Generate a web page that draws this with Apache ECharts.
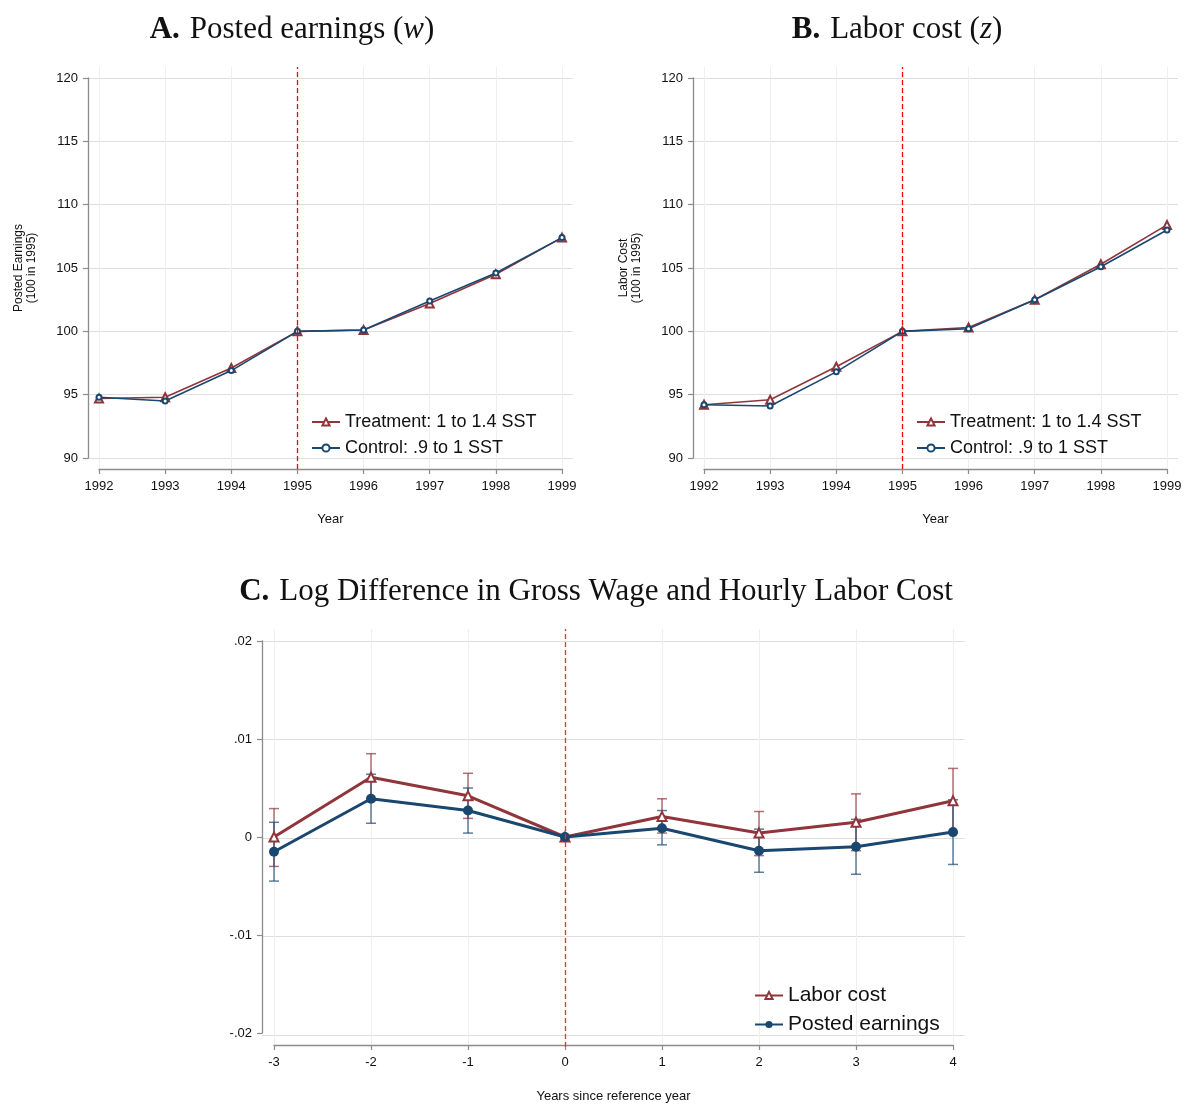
<!DOCTYPE html>
<html>
<head>
<meta charset="utf-8">
<script src="https://cdn.jsdelivr.net/npm/echarts@6/dist/echarts.min.js"></script>
<style>
  body { margin: 0; background: #fff; }
  #chart { width: 1185px; height: 1104px; }
</style>
</head>
<body>
<div id="chart"></div>
<script>
// panel A / B data (index, 100 in 1995)
var years = [1992, 1993, 1994, 1995, 1996, 1997, 1998, 1999];
var postedTreat = [94.7, 94.8, 97.1, 100, 100.1, 102.2, 104.5, 107.4];
var postedControl = [94.8, 94.5, 96.9, 100, 100.1, 102.4, 104.6, 107.4];
var laborTreat = [94.2, 94.6, 97.2, 100, 100.3, 102.5, 105.3, 108.4];
var laborControl = [94.2, 94.1, 96.8, 100, 100.2, 102.5, 105.1, 108.0];
var indexTicks = [90, 95, 100, 105, 110, 115, 120];

// panel C data (log differences with CI)
var relYears = [-3, -2, -1, 0, 1, 2, 3, 4];
var laborCoef = [0, 0.0061, 0.0042, 0, 0.0021, 0.0004, 0.0015, 0.0037];
var laborLo = [-0.0030, 0.0037, 0.0019, 0, 0.0004, -0.0019, -0.0014, 0.0004];
var laborHi = [0.0029, 0.0085, 0.0065, 0, 0.0039, 0.0026, 0.0044, 0.0070];
var postedCoef = [-0.0015, 0.0039, 0.0027, 0, 0.0009, -0.0014, -0.0010, 0.0005];
var postedLo = [-0.0045, 0.0014, 0.0004, 0, -0.0008, -0.0036, -0.0038, -0.0028];
var postedHi = [0.0015, 0.0064, 0.0050, 0, 0.0027, 0.0008, 0.0018, 0.0038];
var diffTicks = [-0.02, -0.01, 0, 0.01, 0.02];

var RED = '#90353b', BLUE = '#1a476f';
var FONT = '"Liberation Sans", Arial, sans-serif';
var SERIF = '"Liberation Serif", "DejaVu Serif", serif';

var chart = echarts.init(document.getElementById('chart'));

var grids = [], xAxes = [], yAxes = [], series = [];

// each panel: exact grid for data & Stata-like axes, wide grid for gridlines
function addPanel(p) {
    var pxX = (p.x1 - p.x0) / (p.xmax - p.xmin);
    var pxY = (p.y1 - p.y0) / (p.ymax - p.ymin);
    var gi = grids.length;
    grids.push({ left: p.x0, top: p.y0, width: p.x1 - p.x0, height: p.y1 - p.y0 });
    grids.push({ left: p.x0 - p.pad, top: p.y0 - p.pad, width: p.x1 - p.x0 + 2 * p.pad, height: p.y1 - p.y0 + 2 * p.pad });
    var axLine = { show: true, onZero: false, lineStyle: { color: '#8c8c8c', width: 1.3 } };
    var tick = { show: true, length: 5, lineStyle: { color: '#8c8c8c', width: 1.2 } };
    xAxes.push({
        gridIndex: gi, type: 'value', min: p.xmin, max: p.xmax, interval: 1, offset: p.pad,
        axisLine: axLine, axisTick: tick, splitLine: { show: false },
        axisLabel: { color: '#111', fontFamily: FONT, fontSize: 13, margin: 11, formatter: function (v) { return String(v); } },
        name: p.xName, nameLocation: 'middle', nameGap: p.xNameGap,
        nameTextStyle: { color: '#111', fontFamily: FONT, fontSize: 13 }
    });
    xAxes.push({
        gridIndex: gi + 1, type: 'value', min: p.xmin - p.pad / pxX, max: p.xmax + p.pad / pxX,
        axisLine: { show: false, onZero: false }, axisLabel: { show: false },
        axisTick: { show: false, customValues: p.xTicks },
        splitLine: { show: true, lineStyle: { color: '#efefef', width: 1 } }
    });
    yAxes.push({
        gridIndex: gi, type: 'value', min: p.ymin, max: p.ymax, interval: p.yInterval, offset: p.pad,
        axisLine: axLine, axisTick: tick, splitLine: { show: false },
        axisLabel: { color: '#111', fontFamily: FONT, fontSize: 13, margin: 10, formatter: p.yFormat },
        name: p.yName, nameLocation: 'middle', nameRotate: 90, nameGap: p.yNameGap,
        nameTextStyle: { color: '#111', fontFamily: FONT, fontSize: 12, lineHeight: 13 }
    });
    yAxes.push({
        gridIndex: gi + 1, type: 'value', min: p.ymin - p.pad / pxY, max: p.ymax + p.pad / pxY,
        axisLine: { show: false, onZero: false }, axisLabel: { show: false },
        axisTick: { show: false, customValues: p.yTicks },
        splitLine: { show: true, lineStyle: { color: '#dedede', width: 1.2 } }
    });
    // reference line (dashed red)
    series.push({
        type: 'line', xAxisIndex: gi + 1, yAxisIndex: gi + 1, data: [], silent: true,
        markLine: {
            symbol: 'none', silent: true, label: { show: false },
            lineStyle: { color: p.refColor, type: [5, 3], width: 1.3, opacity: 1 },
            data: [{ xAxis: p.refX }]
        }
    });
    return gi;
}

function pairs(xs, ys) { return xs.map(function (x, i) { return [x, ys[i]]; }); }

function indexSeries(gi, treat, control) {
    series.push({
        name: 'Treatment: 1 to 1.4 SST', type: 'line', xAxisIndex: gi, yAxisIndex: gi,
        data: pairs(years, treat), symbol: 'emptyTriangle', symbolSize: 8,
        lineStyle: { color: RED, width: 1.6 }, itemStyle: { color: RED, borderWidth: 1.2 }, z: 3
    });
    series.push({
        name: 'Control: .9 to 1 SST', type: 'line', xAxisIndex: gi, yAxisIndex: gi,
        data: pairs(years, control), symbol: 'emptyCircle', symbolSize: 5,
        lineStyle: { color: BLUE, width: 1.6 }, itemStyle: { color: BLUE, borderWidth: 1.2 }, z: 4
    });
}

var gA = addPanel({ x0: 99, x1: 562, y0: 78, y1: 458, pad: 11, xmin: 1992, xmax: 1999, ymin: 90, ymax: 120,
    yInterval: 5, xTicks: years, yTicks: indexTicks, refX: 1995, refColor: '#ff0000',
    xName: 'Year', xNameGap: 44, yName: 'Posted Earnings\n(100 in 1995)', yNameGap: 50 });
indexSeries(gA, postedTreat, postedControl);

var gB = addPanel({ x0: 704, x1: 1167, y0: 78, y1: 458, pad: 11, xmin: 1992, xmax: 1999, ymin: 90, ymax: 120,
    yInterval: 5, xTicks: years, yTicks: indexTicks, refX: 1995, refColor: '#ff0000',
    xName: 'Year', xNameGap: 44, yName: 'Labor Cost\n(100 in 1995)', yNameGap: 50 });
indexSeries(gB, laborTreat, laborControl);

var gC = addPanel({ x0: 274, x1: 953, y0: 641, y1: 1035, pad: 12, xmin: -3, xmax: 4, ymin: -0.02, ymax: 0.02,
    yInterval: 0.01, xTicks: relYears, yTicks: diffTicks, refX: 0, refColor: '#ff2a2a',
    xName: 'Years since reference year', xNameGap: 45, yName: '', yNameGap: 40,
    yFormat: function (v) {
        if (Math.abs(v) < 1e-9) return '0';
        return (v < 0 ? '-' : '') + Math.abs(v).toFixed(2).replace(/^0/, '');
    } });

function errorBars(gi, lo, hi, color) {
    var data = [];
    relYears.forEach(function (x, i) { if (hi[i] !== lo[i]) data.push([x, lo[i], hi[i]]); });
    series.push({
        type: 'custom', xAxisIndex: gi, yAxisIndex: gi, data: data, silent: true, z: 2,
        renderItem: function (params, api) {
            var top = api.coord([api.value(0), api.value(2)]);
            var bot = api.coord([api.value(0), api.value(1)]);
            var w = 5, st = { stroke: color, lineWidth: 1.5 };
            return { type: 'group', children: [
                { type: 'line', shape: { x1: top[0], y1: top[1], x2: bot[0], y2: bot[1] }, style: st },
                { type: 'line', shape: { x1: top[0] - w, y1: top[1], x2: top[0] + w, y2: top[1] }, style: st },
                { type: 'line', shape: { x1: bot[0] - w, y1: bot[1], x2: bot[0] + w, y2: bot[1] }, style: st }
            ] };
        }
    });
}
errorBars(gC, laborLo, laborHi, 'rgba(144,53,59,0.7)');
errorBars(gC, postedLo, postedHi, 'rgba(26,71,111,0.7)');
series.push({
    name: 'Labor cost', type: 'line', xAxisIndex: gC, yAxisIndex: gC, data: pairs(relYears, laborCoef),
    symbol: 'emptyTriangle', symbolSize: 9, lineStyle: { color: RED, width: 3 },
    itemStyle: { color: RED, borderWidth: 1.3 }, z: 3
});
series.push({
    name: 'Posted earnings', type: 'line', xAxisIndex: gC, yAxisIndex: gC, data: pairs(relYears, postedCoef),
    symbol: 'circle', symbolSize: 10, lineStyle: { color: BLUE, width: 3 },
    itemStyle: { color: BLUE }, z: 4
});

function legendAt(left, top, names, size, gap) {
    return {
        left: left, top: top, orient: 'vertical', itemWidth: 28, itemHeight: 9, itemGap: gap,
        data: names, selectedMode: false,
        textStyle: { color: '#111', fontFamily: FONT, fontSize: size }
    };
}

var titleRich = function (size) {
    return {
        b: { fontFamily: SERIF, fontSize: size, fontWeight: 'bold', color: '#111' },
        r: { fontFamily: SERIF, fontSize: size, fontWeight: 'normal', color: '#111' },
        i: { fontFamily: SERIF, fontSize: size, fontWeight: 'normal', fontStyle: 'italic', color: '#111' }
    };
};

chart.setOption({
    animation: false,
    backgroundColor: '#fff',
    title: [
        { text: '{b|A.}  {r|Posted earnings (}{i|w}{r|)}', left: 287, top: 9, textAlign: 'center',
          textStyle: { fontWeight: 'normal', rich: titleRich(31) } },
        { text: '{b|B.}  {r|Labor cost (}{i|z}{r|)}', left: 892, top: 9, textAlign: 'center',
          textStyle: { fontWeight: 'normal', rich: titleRich(31) } },
        { text: '{b|C.}  {r|Log Difference in Gross Wage and Hourly Labor Cost}', left: 591, top: 571, textAlign: 'center',
          textStyle: { fontWeight: 'normal', rich: titleRich(31) } }
    ],
    legend: [
        legendAt(306, 408, ['Treatment: 1 to 1.4 SST', 'Control: .9 to 1 SST'], 18, 8),
        legendAt(911, 408, ['Treatment: 1 to 1.4 SST', 'Control: .9 to 1 SST'], 18, 8),
        legendAt(749, 980, ['Labor cost', 'Posted earnings'], 21, 8)
    ],
    grid: grids,
    xAxis: xAxes,
    yAxis: yAxes,
    series: series
});
</script>
</body>
</html>
